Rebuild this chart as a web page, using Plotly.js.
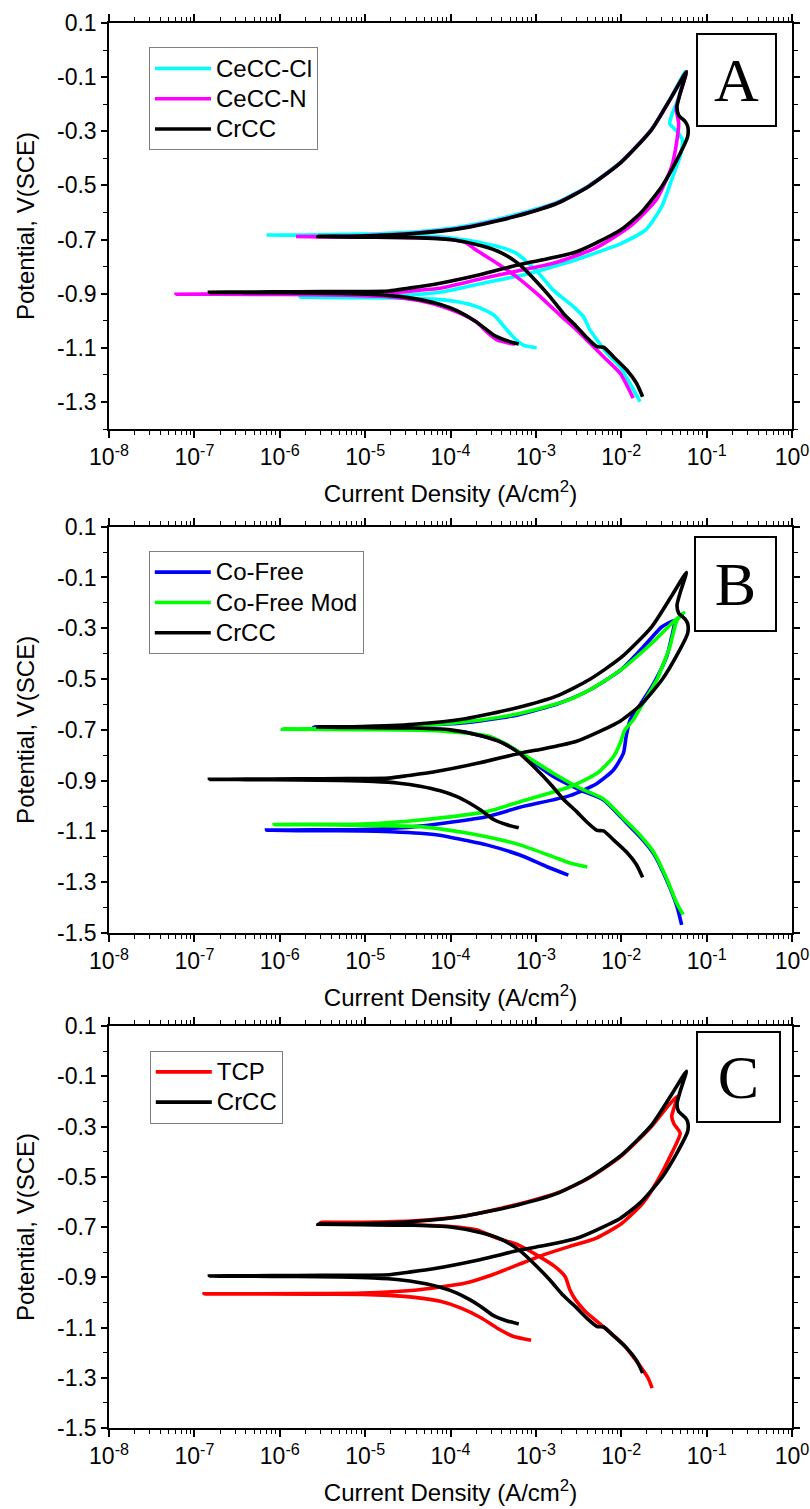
<!DOCTYPE html>
<html><head><meta charset="utf-8">
<script src="https://cdn.plot.ly/plotly-3.0.1.min.js"></script>
<style>html,body{margin:0;padding:0;background:#fff}</style>
</head><body><div id="chart" style="width:810px;height:1509px"></div>
<script>
// ---- Data: current density (A/cm2) and potential (V vs SCE), in scan order ----
const crccI = [6.3e-4,4.6e-4,3.2e-4,2.3e-4,1.7e-4,1.17e-4,7.6e-5,4.4e-5,2.5e-5,1.26e-5,5e-6,1.6e-6,4e-7,1.5e-7,
  4e-7,1.6e-6,6.3e-6,1.9e-5,3.2e-5,6.3e-5,2.2e-4,6.5e-4,1.2e-3,2e-3,3e-3,4.9e-3,9.8e-3,1.7e-2,3e-2,4.5e-2,6e-2,6e-2,5.6e-2,4.7e-2,4.5e-2,4.9e-2,5.8e-2,
  3.9e-2,2.26e-2,9.8e-3,4.2e-3,1.84e-3,6e-4,1.5e-4,3.7e-5,9.2e-6,2.8e-6,
  9.2e-6,3.7e-5,1e-4,2.3e-4,4e-4,6.5e-4,1.02e-3,1.46e-3,2.1e-3,3e-3,3.9e-3,5.2e-3,6.2e-3,8.1e-3,1.16e-2,1.51e-2,1.78e-2];
const crccE = [-1.086,-1.074,-1.053,-1.018,-0.990,-0.962,-0.940,-0.922,-0.910,-0.903,-0.899,-0.897,-0.896,-0.895,
  -0.894,-0.893,-0.892,-0.890,-0.880,-0.866,-0.830,-0.792,-0.775,-0.760,-0.745,-0.715,-0.665,-0.601,-0.503,-0.405,-0.319,-0.282,-0.264,-0.240,-0.209,-0.160,-0.080,
  -0.172,-0.295,-0.417,-0.503,-0.564,-0.613,-0.656,-0.678,-0.687,-0.689,
  -0.691,-0.693,-0.700,-0.723,-0.750,-0.794,-0.856,-0.911,-0.973,-1.022,-1.061,-1.096,-1.098,-1.133,-1.182,-1.231,-1.281];

const ceclI = [1.02e-3,7.1e-4,5.4e-4,4.1e-4,3.3e-4,2.5e-4,1.7e-4,1.1e-4,6.9e-5,3.2e-5,1e-5,3e-6,1.74e-6,
  3e-6,1e-5,3e-5,7.5e-5,2.7e-4,7.9e-4,1.6e-3,2.4e-3,6.2e-3,9.8e-3,1.97e-2,3e-2,3.9e-2,4.9e-2,5.2e-2,4.5e-2,3.7e-2,3.9e-2,4.6e-2,5.6e-2,
  3.9e-2,2.26e-2,9.8e-3,4.2e-3,1.84e-3,6e-4,1.5e-4,3.7e-5,9.2e-6,2e-6,7e-7,
  2e-6,9.2e-6,3.7e-5,7.5e-5,2e-4,3e-4,4e-4,5.4e-4,6.5e-4,8e-4,1.02e-3,1.6e-3,2.75e-3,3.6e-3,4.3e-3,5.2e-3,6.8e-3,9.7e-3,1.26e-2,1.66e-2];
const ceclE = [-1.100,-1.090,-1.059,-1.016,-0.982,-0.960,-0.940,-0.928,-0.921,-0.917,-0.915,-0.914,-0.913,
  -0.912,-0.910,-0.906,-0.895,-0.858,-0.827,-0.800,-0.784,-0.739,-0.716,-0.662,-0.576,-0.478,-0.392,-0.331,-0.300,-0.272,-0.240,-0.184,-0.080,
  -0.170,-0.293,-0.414,-0.500,-0.560,-0.607,-0.650,-0.672,-0.680,-0.683,-0.683,
  -0.684,-0.685,-0.687,-0.690,-0.708,-0.720,-0.730,-0.745,-0.760,-0.785,-0.815,-0.887,-0.948,-0.985,-1.034,-1.071,-1.120,-1.170,-1.231,-1.299];

const cenI = [5.7e-4,3.5e-4,2.65e-4,2e-4,1.3e-4,7.5e-5,4.4e-5,2e-5,6e-6,1e-6,6.1e-8,
  1e-6,6e-6,1.9e-5,4.4e-5,7.5e-5,2.65e-4,1.2e-3,1.6e-3,4.9e-3,1.29e-2,2.6e-2,3.9e-2,4.5e-2,4.7e-2,4.4e-2,4.8e-2,5.8e-2,
  3.9e-2,2.26e-2,9.8e-3,4.2e-3,1.84e-3,6e-4,1.5e-4,3.7e-5,9.2e-6,3e-6,1.55e-6,
  3e-6,9.2e-6,7.5e-5,1.5e-4,2e-4,3.5e-4,5.9e-4,1.02e-3,1.92e-3,3e-3,4.3e-3,6.2e-3,9.7e-3,1.38e-2];
const cenE = [-1.087,-1.071,-1.041,-1.004,-0.973,-0.945,-0.926,-0.912,-0.906,-0.903,-0.902,
  -0.900,-0.899,-0.897,-0.887,-0.880,-0.840,-0.797,-0.788,-0.733,-0.649,-0.551,-0.429,-0.331,-0.270,-0.215,-0.170,-0.080,
  -0.172,-0.294,-0.416,-0.502,-0.563,-0.612,-0.655,-0.677,-0.686,-0.689,-0.689,
  -0.690,-0.691,-0.696,-0.711,-0.739,-0.788,-0.837,-0.899,-0.979,-1.034,-1.083,-1.133,-1.194,-1.286];

const cofreeI = [2.4e-3,1.35e-3,6.5e-4,2.65e-4,1.5e-4,7.5e-5,4.4e-5,2e-5,9.2e-6,2.3e-6,7e-7,
  2.3e-6,9.2e-6,4.4e-5,2.65e-4,6.5e-4,2.5e-3,5.2e-3,8.1e-3,1.06e-2,1.14e-2,1.27e-2,1.7e-2,2.4e-2,3.4e-2,3.9e-2,4.2e-2,
  3e-2,1.97e-2,9.8e-3,4.2e-3,1.84e-3,6e-4,1.5e-4,3.7e-5,9.2e-6,2.5e-6,
  9.2e-6,3.7e-5,1.5e-4,3.5e-4,6.5e-4,1.6e-3,3.3e-3,6.2e-3,1.16e-2,1.66e-2,2.38e-2,3.4e-2,4.5e-2,5.1e-2];
const cofreeE = [-1.272,-1.239,-1.193,-1.153,-1.135,-1.115,-1.107,-1.101,-1.098,-1.097,-1.095,
  -1.094,-1.093,-1.079,-1.042,-1.005,-0.959,-0.911,-0.858,-0.792,-0.727,-0.661,-0.596,-0.517,-0.412,-0.333,-0.270,
  -0.294,-0.360,-0.465,-0.544,-0.596,-0.642,-0.672,-0.683,-0.688,-0.689,
  -0.693,-0.696,-0.710,-0.741,-0.790,-0.884,-0.937,-0.976,-1.068,-1.121,-1.186,-1.291,-1.396,-1.468];

const cofreeModI = [4e-3,2.4e-3,1.6e-3,6.5e-4,2.65e-4,1.5e-4,7.5e-5,4.4e-5,9.2e-6,2.3e-6,8.6e-7,
  2.3e-6,9.2e-6,4.4e-5,2.65e-4,6.5e-4,2.5e-3,5.2e-3,8.1e-3,9.7e-3,1.1e-2,1.38e-2,1.7e-2,2.6e-2,3.7e-2,4.5e-2,5.4e-2,
  3.9e-2,2.26e-2,9.8e-3,4.9e-3,2.4e-3,6e-4,1.5e-4,3.7e-5,9.2e-6,1.07e-6,
  9.2e-6,7.5e-5,3e-4,6.5e-4,1.6e-3,3.3e-3,6.2e-3,1.16e-2,1.66e-2,2.38e-2,3.4e-2,4.5e-2,5.3e-2];
const cofreeModE = [-1.240,-1.222,-1.200,-1.153,-1.121,-1.105,-1.090,-1.081,-1.076,-1.074,-1.073,
  -1.072,-1.071,-1.055,-1.022,-0.983,-0.924,-0.871,-0.806,-0.753,-0.701,-0.661,-0.609,-0.504,-0.373,-0.268,-0.239,
  -0.281,-0.360,-0.465,-0.531,-0.583,-0.638,-0.668,-0.685,-0.693,-0.697,
  -0.699,-0.704,-0.728,-0.788,-0.871,-0.930,-0.972,-1.062,-1.115,-1.180,-1.285,-1.385,-1.427];

const tcpI = [8.8e-4,5.4e-4,3.5e-4,2.3e-4,1.33e-4,7.6e-5,3.8e-5,1.9e-5,9.3e-6,2.3e-6,1.3e-7,
  2.3e-6,9.3e-6,3.8e-5,7.6e-5,1.5e-4,3.1e-4,6.2e-4,1.25e-3,2.5e-3,5.1e-3,1.02e-2,1.79e-2,2.7e-2,3.9e-2,4.9e-2,4.15e-2,3.9e-2,4.2e-2,4.5e-2,
  3.6e-2,2.26e-2,9.8e-3,4.2e-3,1.84e-3,6e-4,1.5e-4,3.8e-5,9.3e-6,3e-6,
  9.3e-6,3.8e-5,1e-4,2e-4,3.5e-4,6.2e-4,1.09e-3,1.66e-3,2.2e-3,2.5e-3,2.9e-3,3.8e-3,5.8e-3,1.02e-2,1.56e-2,2.06e-2,2.3e-2];
const tcpE = [-1.151,-1.135,-1.102,-1.062,-1.023,-0.996,-0.980,-0.972,-0.968,-0.967,-0.966,
  -0.965,-0.963,-0.952,-0.939,-0.923,-0.890,-0.850,-0.810,-0.777,-0.744,-0.685,-0.605,-0.512,-0.406,-0.327,-0.290,-0.260,-0.220,-0.180,
  -0.215,-0.300,-0.420,-0.505,-0.562,-0.610,-0.655,-0.675,-0.681,-0.682,
  -0.686,-0.691,-0.698,-0.711,-0.744,-0.771,-0.817,-0.857,-0.897,-0.950,-0.989,-1.036,-1.089,-1.162,-1.241,-1.301,-1.341];

// ---- Tick labels and names ----
const xTickVals = [1e-8,1e-7,1e-6,1e-5,1e-4,1e-3,1e-2,1e-1,1];
const xTickText = ['10<sup>-8</sup>','10<sup>-7</sup>','10<sup>-6</sup>','10<sup>-5</sup>','10<sup>-4</sup>','10<sup>-3</sup>','10<sup>-2</sup>','10<sup>-1</sup>','10<sup>0</sup>'];
const yTicksA = [0.1,-0.1,-0.3,-0.5,-0.7,-0.9,-1.1,-1.3];
const yTicksBC = [0.1,-0.1,-0.3,-0.5,-0.7,-0.9,-1.1,-1.3,-1.5];
const panelLetters = ['A','B','C'];
const seriesNames = ['CeCC-Cl','CeCC-N','CrCC','Co-Free','Co-Free Mod','TCP'];

// ---- Layout helpers ----
const SANS = 'Liberation Sans, Arial, sans-serif';
const SERIF = 'Liberation Serif, Times New Roman, serif';
const W = 810, H = 1509;
const xMinor = [];
for (let e = -8; e < 0; e++) for (let m = 2; m <= 9; m++) xMinor.push(m * Math.pow(10, e));

function xAxis(anchor) {
  return {
    type: 'log', range: [-8, 0], domain: [109 / W, 792 / W], anchor: anchor,
    tickmode: 'array', tickvals: xTickVals, ticktext: xTickText,
    ticks: 'outside', ticklen: 7, tickwidth: 1.5, tickcolor: '#000',
    showline: true, linecolor: '#000', linewidth: 1.5, mirror: 'ticks',
    showgrid: false, zeroline: false,
    tickfont: {family: SANS, size: 23, color: '#000'},
    minor: {tickmode: 'array', tickvals: xMinor, ticks: 'outside', ticklen: 4, tickwidth: 1.2, tickcolor: '#000', showgrid: false},
    title: {text: 'Current Density (A/cm<sup>2</sup>)', font: {family: SANS, size: 24, color: '#000'}, standoff: 16}
  };
}
function yAxis(anchor, top, bottom, range, vals) {
  return {
    range: range, domain: [1 - bottom / H, 1 - top / H], anchor: anchor,
    tickmode: 'array', tickvals: vals, ticktext: vals.map(v => v.toFixed(1)),
    ticks: 'outside', ticklen: 6, tickwidth: 1.5, tickcolor: '#000',
    showline: true, linecolor: '#000', linewidth: 1.5, mirror: 'ticks',
    showgrid: false, zeroline: false,
    tickfont: {family: SANS, size: 23, color: '#000'},
    minor: {tickmode: 'linear', tick0: 0, dtick: 0.1, ticks: 'outside', ticklen: 4, tickwidth: 1.2, tickcolor: '#000', showgrid: false},
    title: {text: 'Potential, V(SCE)', font: {family: SANS, size: 24, color: '#000'}, standoff: 16}
  };
}
function legendAt(left, top) {
  return {x: left / W, y: 1 - top / H, xanchor: 'left', yanchor: 'top',
    bgcolor: '#fff', bordercolor: '#808080', borderwidth: 1,
    font: {family: SANS, size: 21, color: '#000'}, itemwidth: 56, tracegroupgap: 0};
}
function letterBox(text, cx, cy, w, h) {
  return {xref: 'paper', yref: 'paper', x: cx / W, y: 1 - cy / H, xanchor: 'center', yanchor: 'middle',
    text: text, showarrow: false, font: {family: SERIF, size: 62, color: '#000'},
    bordercolor: '#000', borderwidth: 2, borderpad: 0, width: w, height: h, bgcolor: '#fff'};
}
function line(x, y, name, color, xa, ya, leg) {
  return {x: x, y: y, name: '<span style="font-size:24px">' + name + '</span>', type: 'scatter', mode: 'lines',
    xaxis: xa, yaxis: ya, legend: leg,
    line: {color: color, width: 3.6, shape: 'spline', smoothing: 0.6}, hoverinfo: 'skip'};
}

const data = [
  line(ceclI, ceclE, seriesNames[0], '#00FFFF', 'x', 'y', 'legend'),
  line(cenI, cenE, seriesNames[1], '#FF00FF', 'x', 'y', 'legend'),
  line(crccI, crccE, seriesNames[2], '#000000', 'x', 'y', 'legend'),
  line(cofreeI, cofreeE, seriesNames[3], '#0000FF', 'x2', 'y2', 'legend2'),
  line(cofreeModI, cofreeModE, seriesNames[4], '#00FF00', 'x2', 'y2', 'legend2'),
  line(crccI, crccE, seriesNames[2], '#000000', 'x2', 'y2', 'legend2'),
  line(tcpI, tcpE, seriesNames[5], '#FF0000', 'x3', 'y3', 'legend3'),
  line(crccI, crccE, seriesNames[2], '#000000', 'x3', 'y3', 'legend3')
];

const layout = {
  width: W, height: H, margin: {l: 0, r: 0, t: 0, b: 0, pad: 0},
  paper_bgcolor: '#fff', plot_bgcolor: '#fff', showlegend: true,
  font: {family: SANS, color: '#000'},
  xaxis: xAxis('y'), xaxis2: xAxis('y2'), xaxis3: xAxis('y3'),
  yaxis: yAxis('x', 23, 429, [-1.4, 0.1], yTicksA),
  yaxis2: yAxis('x2', 526.7, 933, [-1.5, 0.1], yTicksBC),
  yaxis3: yAxis('x3', 1026, 1428, [-1.5, 0.1], yTicksBC),
  legend: legendAt(149, 47.3),
  legend2: legendAt(148.8, 551),
  legend3: legendAt(149.8, 1050.7),
  annotations: [
    letterBox(panelLetters[0], 736.5, 80, 77, 90),
    letterBox(panelLetters[1], 735.3, 583.7, 79, 92),
    letterBox(panelLetters[2], 738.7, 1076.8, 81, 88)
  ]
};

Plotly.newPlot('chart', data, layout, {displayModeBar: false}).then(function (gd) {
  // mirror the CSS font size into an explicit attribute on every text node
  gd.querySelectorAll('text').forEach(function (t) {
    var fs = t.style.fontSize || window.getComputedStyle(t).fontSize;
    if (fs && !t.getAttribute('font-size')) t.setAttribute('font-size', parseFloat(fs));
  });
});
</script></body></html>
